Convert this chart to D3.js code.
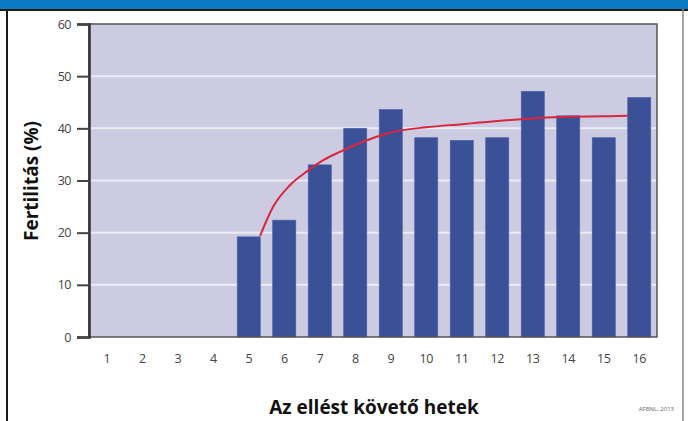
<!DOCTYPE html>
<html><head><meta charset="utf-8">
<script src="https://cdn.jsdelivr.net/npm/d3@7"></script>
<style>body{margin:0;background:#fff}svg{display:block}</style>
</head><body>
<svg id="c" width="688" height="421"></svg>
<script>
const weeks = [1,2,3,4,5,6,7,8,9,10,11,12,13,14,15,16];
const fertility = [null,null,null,null,19.2,22.4,33.0,40.0,43.6,38.2,37.7,38.2,47.1,42.4,38.2,45.9];
const yTicks = [0,10,20,30,40,50,60];
// fitted trend curve: [week, %]
const trendWeek = [5.32,5.69,6.16,6.63,7.10,7.57,8.0,8.41,9.0,10.0,11.0,11.5,12.0,13.0,13.4,14.0,15.0,15.68];
const trendVal  = [19.4,25.0,29.1,31.7,33.9,35.5,36.8,37.9,39.2,40.2,40.8,41.1,41.4,41.9,42.1,42.2,42.3,42.4];
const yTitle = "Fertilitás (%)";
const xTitle = "Az ellést követő hetek";
const source = "AFBNL, 2013";

const svg = d3.select("#c");
const L = 89, R = 657, T = 24, B = 337;

// outer frame / title band
svg.append("rect").attr("x",0).attr("y",0).attr("width",688).attr("height",9).attr("fill","#0b7ac2");
svg.append("line").attr("x1",0).attr("x2",688).attr("y1",10).attr("y2",10).attr("stroke","#1a1a1a").attr("stroke-width",2);
svg.append("line").attr("x1",7).attr("x2",7).attr("y1",9).attr("y2",421).attr("stroke","#1a1a1a").attr("stroke-width",2);
svg.append("line").attr("x1",683).attr("x2",683).attr("y1",9).attr("y2",421).attr("stroke","#888").attr("stroke-width",1.5);

const x = d3.scaleBand().domain(weeks).range([L,R]).paddingInner(0.35).paddingOuter(0.175);
const y = d3.scaleLinear().domain([0,60]).range([B,T]);
const xc = d3.scaleLinear().domain([1,16]).range([x(1)+x.bandwidth()/2, x(16)+x.bandwidth()/2]);

svg.append("rect").attr("x",L).attr("y",T).attr("width",R-L).attr("height",B-T).attr("fill","#cccbe1");

// gridlines
svg.append("g").selectAll("line").data(yTicks.filter(d=>d>0&&d<60)).join("line")
  .attr("x1",L).attr("x2",R).attr("y1",d=>y(d)).attr("y2",d=>y(d))
  .attr("stroke","#ecebf4").attr("stroke-width",2);

// bars
svg.append("g").selectAll("rect").data(weeks.map((w,i)=>({w,v:fertility[i]})).filter(d=>d.v!=null)).join("rect")
  .attr("x",d=>x(d.w)).attr("width",x.bandwidth())
  .attr("y",d=>y(d.v)).attr("height",d=>y(0)-y(d.v))
  .attr("fill","#3a5198").attr("stroke","#4a60a6").attr("stroke-width",0.6);

// trend curve
const pts = trendWeek.map((w,i)=>[w,trendVal[i]]);
svg.append("path").datum(pts)
  .attr("d", d3.line().x(d=>xc(d[0])).y(d=>y(d[1])).curve(d3.curveMonotoneX))
  .attr("fill","none").attr("stroke","#d9263c").attr("stroke-width",2);

// plot frame
svg.append("rect").attr("x",L).attr("y",T).attr("width",R-L).attr("height",B-T)
  .attr("fill","none").attr("stroke","#555").attr("stroke-width",1.5);

// y axis
const yAxis = svg.append("g").attr("transform",`translate(${L},0)`)
  .call(d3.axisLeft(y).tickValues(yTicks).tickSize(12).tickPadding(6));
yAxis.select(".domain").attr("stroke","#333").attr("stroke-width",2.5);
yAxis.selectAll(".tick line").attr("stroke","#444").attr("stroke-width",2);
yAxis.selectAll(".tick text").attr("fill","#444").style("font-family","Open Sans, sans-serif").style("font-size","12.5px").style("letter-spacing","-0.5px");

// x axis labels
const xAxis = svg.append("g").attr("transform",`translate(0,${B})`)
  .call(d3.axisBottom(x).tickSize(0).tickPadding(17));
xAxis.select(".domain").remove();
xAxis.selectAll(".tick text").attr("fill","#444").style("font-family","Open Sans, sans-serif").style("font-size","12.5px").style("letter-spacing","-0.5px");

// titles
svg.append("text").attr("transform","translate(38,181) rotate(-90)").attr("text-anchor","middle")
  .style("font-family","Open Sans, sans-serif").style("font-weight","bold").style("font-size","19px").attr("fill","#111")
  .text(yTitle);
svg.append("text").attr("x",374).attr("y",414).attr("text-anchor","middle")
  .style("font-family","Open Sans, sans-serif").style("font-weight","bold").style("font-size","19px").attr("fill","#111")
  .text(xTitle);
svg.append("text").attr("x",674).attr("y",411).attr("text-anchor","end")
  .style("font-family","Open Sans, sans-serif").style("font-size","6px").attr("fill","#666")
  .text(source);
</script>
</body></html>
